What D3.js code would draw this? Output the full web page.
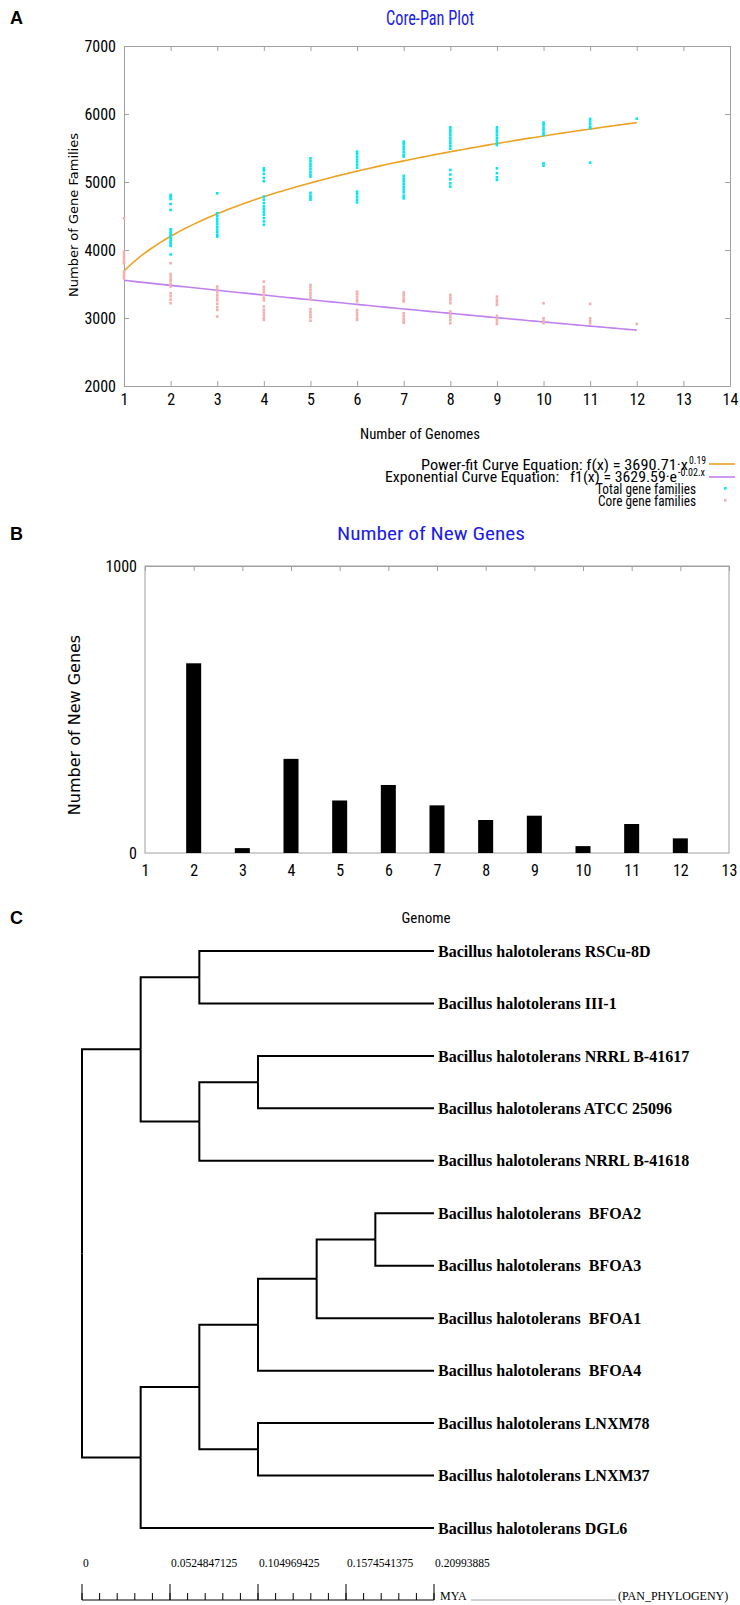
<!DOCTYPE html>
<html>
<head>
<meta charset="utf-8">
<script src="https://cdn.jsdelivr.net/npm/d3@7"></script>
<style>
  body { margin: 0; background: #fff; }
  svg { display: block; }
  .narrow { font-family: 'Liberation Sans Narrow', 'Arial Narrow', 'Roboto Condensed', 'Liberation Sans', sans-serif; font-stretch: condensed; }
  .verd { font-family: 'DejaVu Sans', Verdana, sans-serif; }
  .serif { font-family: 'Liberation Serif', 'Times New Roman', serif; }
</style>
</head>
<body>
<svg id="fig" width="740" height="1605"></svg>
<script>
// ---- panel A: core / pan ----
const genomeCounts = [1, 2, 3, 4, 5, 6, 7, 8, 9, 10, 11, 12];
const xTicksA = [1, 2, 3, 4, 5, 6, 7, 8, 9, 10, 11, 12, 13, 14];
const yTicksA = [2000, 3000, 4000, 5000, 6000, 7000];

// total gene families per number of genomes (one list per x)
const totalFamilies = [
  [],
  [4810, 4785, 4750, 4677, 4589, 4305, 4270, 4240, 4210, 4180, 4150, 4120, 4090, 4060, 3935],
  [4834, 4540, 4500, 4460, 4420, 4380, 4340, 4300, 4260, 4220, 4197],
  [5201, 5170, 5120, 5060, 5010, 4785, 4740, 4690, 4640, 4600, 4560, 4520, 4470, 4420, 4370],
  [5348, 5310, 5270, 5230, 5190, 5150, 5110, 5080, 4840, 4800, 4770, 4740],
  [5446, 5410, 5370, 5330, 5290, 5250, 5210, 4858, 4820, 4780, 4740, 4700],
  [5593, 5560, 5520, 5480, 5440, 5400, 5375, 5089, 5050, 5010, 4970, 4930, 4890, 4850, 4800, 4760],
  [5804, 5770, 5730, 5690, 5650, 5610, 5570, 5530, 5490, 5177, 5110, 5040, 4980, 4932],
  [5804, 5770, 5730, 5690, 5650, 5610, 5570, 5544, 5201, 5130, 5070, 5030],
  [5873, 5840, 5800, 5760, 5720, 5691, 5275, 5240],
  [5927, 5890, 5850, 5810, 5790, 5285],
  [5932]
];
// core gene families
const coreFamilies = [
  [4466, 3976, 3940, 3900, 3860, 3820, 3805, 3682, 3650, 3620, 3585],
  [3805, 3648, 3610, 3570, 3540, 3500, 3462, 3364, 3320, 3270, 3217],
  [3462, 3420, 3380, 3340, 3300, 3260, 3210, 3160, 3120, 3021],
  [3535, 3460, 3420, 3380, 3340, 3300, 3260, 3168, 3120, 3080, 3040, 3000, 2972],
  [3487, 3450, 3410, 3370, 3330, 3290, 3266, 3130, 3090, 3050, 3010, 2960],
  [3388, 3350, 3310, 3270, 3242, 3119, 3080, 3040, 3000, 2972],
  [3374, 3340, 3300, 3260, 3242, 3070, 3030, 2990, 2950, 2933],
  [3340, 3300, 3260, 3217, 3094, 3050, 3010, 2970, 2923],
  [3315, 3270, 3230, 3193, 3031, 2990, 2950, 2913],
  [3217, 2996, 2960, 2923],
  [3207, 2996, 2960, 2923],
  [2913]
];
// fitted curves (legend rounds the exponents)
const powerA = 3690.71, powerB = 0.187;
const expA = 3629.59, expB = -0.021;

// ---- panel B: new genes ----
const newGenomes = [2, 3, 4, 5, 6, 7, 8, 9, 10, 11, 12];
const newGenes = [661, 17, 328, 183, 237, 166, 115, 130, 24, 101, 51];
const xTicksB = [1, 2, 3, 4, 5, 6, 7, 8, 9, 10, 11, 12, 13];

// ---- panel C: pan phylogeny ----
const phylo = {children: [
  {children: [
    {children: [{name: "Bacillus halotolerans RSCu-8D"}, {name: "Bacillus halotolerans III-1"}]},
    {children: [
      {children: [{name: "Bacillus halotolerans NRRL B-41617"}, {name: "Bacillus halotolerans ATCC 25096"}]},
      {name: "Bacillus halotolerans NRRL B-41618"}
    ]}
  ]},
  {children: [
    {children: [
      {children: [
        {children: [
          {children: [{name: "Bacillus halotolerans  BFOA2"}, {name: "Bacillus halotolerans  BFOA3"}]},
          {name: "Bacillus halotolerans  BFOA1"}
        ]},
        {name: "Bacillus halotolerans  BFOA4"}
      ]},
      {children: [{name: "Bacillus halotolerans LNXM78"}, {name: "Bacillus halotolerans LNXM37"}]}
    ]},
    {name: "Bacillus halotolerans DGL6"}
  ]}
]};
const scaleMax = 0.20993885;
const scaleLabels = ["0", "0.0524847125", "0.104969425", "0.1574541375", "0.20993885"];

const svg = d3.select("#fig");
const grey = "#a0a0a0";
const orange = "#eea224", purple = "#c080f0", cyan = "#00e8f0", pink = "#f2b0b0";

function panelLetter(t, y) {
  svg.append("text").attr("x", 10).attr("y", y).attr("font-family", "'Liberation Sans', Arial, sans-serif")
    .attr("font-weight", "bold").attr("font-size", 18).text(t);
}
function styleAxis(g) {
  g.selectAll("path.domain").attr("stroke", grey);
  g.selectAll(".tick line").attr("stroke", grey);
  g.attr("font-family", null).attr("font-size", null);
  g.selectAll("text").attr("fill", "#000");
}
// narrow text squeezed to the width seen in the figure
function fitText(parent, x, y, anchor, size, len, str) {
  return parent.append("text").attr("class", "narrow").attr("x", x).attr("y", y)
    .attr("text-anchor", anchor).attr("font-size", size)
    .attr("textLength", len).attr("lengthAdjust", "spacingAndGlyphs").text(str);
}

// ===== Panel A =====
panelLetter("A", 24);
fitText(svg, 430, 25, "middle", 21, 88, "Core-Pan Plot").attr("fill", "#1c1ce6");

const xA = d3.scaleLinear().domain([1, 14]).range([124, 730]);
const yA = d3.scaleLinear().domain([2000, 7000]).range([386, 46]);

const gA = svg.append("g");
gA.append("g").attr("class", "narrow").attr("font-size", 13.5).attr("transform", "translate(0,386)")
  .call(d3.axisBottom(xA).tickValues(xTicksA).tickSizeInner(-5).tickSizeOuter(0).tickPadding(8).tickFormat(d3.format("d")))
  .call(styleAxis);
gA.append("g").attr("transform", "translate(0,46)")
  .call(d3.axisTop(xA).tickValues(xTicksA).tickSizeInner(-5).tickSizeOuter(0).tickFormat(""))
  .call(styleAxis);
gA.append("g").attr("class", "narrow").attr("font-size", 13).attr("transform", "translate(124,0)")
  .call(d3.axisLeft(yA).tickValues(yTicksA).tickSizeInner(-5).tickSizeOuter(0).tickPadding(8).tickFormat(d3.format("d")))
  .call(styleAxis);
gA.append("g").attr("transform", "translate(730,0)")
  .call(d3.axisRight(yA).tickValues(yTicksA).tickSizeInner(-5).tickSizeOuter(0).tickFormat(""))
  .call(styleAxis);

// fitted curves
const fitX = d3.range(1, 12.0001, 0.1);
const lineA = d3.line().x(d => xA(d[0])).y(d => yA(d[1]));
gA.append("path").attr("d", lineA(fitX.map(x => [x, powerA * Math.pow(x, powerB)])))
  .attr("fill", "none").attr("stroke", orange).attr("stroke-width", 1.6);
gA.append("path").attr("d", lineA(fitX.map(x => [x, expA * Math.exp(expB * x)])))
  .attr("fill", "none").attr("stroke", purple).attr("stroke-width", 1.6);

// points
const ptsTotal = [], ptsCore = [];
genomeCounts.forEach((n, i) => {
  totalFamilies[i].forEach(v => ptsTotal.push([n, v]));
  coreFamilies[i].forEach(v => ptsCore.push([n, v]));
});
gA.append("g").selectAll("rect").data(ptsTotal).join("rect")
  .attr("x", d => xA(d[0]) - 1.3).attr("y", d => yA(d[1]) - 1.3).attr("width", 2.6).attr("height", 2.6)
  .attr("fill", cyan);
gA.append("g").selectAll("rect").data(ptsCore).join("rect")
  .attr("x", d => xA(d[0]) - 1.3).attr("y", d => yA(d[1]) - 1.3).attr("width", 2.6).attr("height", 2.6)
  .attr("fill", pink);

fitText(svg, 420, 439, "middle", 15.5, 120, "Number of Genomes");
svg.append("text").attr("class", "verd").attr("transform", "translate(78,215) rotate(-90)").attr("text-anchor", "middle")
  .attr("font-size", 13).text("Number of Gene Families");

// legend
const leg = svg.append("g");
fitText(leg, 688, 470, "end", 14, 267, "Power-fit Curve Equation: f(x) = 3690.71·x");
fitText(leg, 689, 464, "start", 10, 17, "0.19");
fitText(leg, 677, 482, "end", 14, 292, "Exponential Curve Equation:\u00a0\u00a0\u00a0f1(x) = 3629.59·e");
fitText(leg, 678, 476, "start", 10, 27, "-0.02.x");
fitText(leg, 696, 494, "end", 14, 100, "Total gene families");
fitText(leg, 696, 506, "end", 14, 98, "Core gene families");
leg.append("line").attr("x1", 709).attr("x2", 735).attr("y1", 464).attr("y2", 464).attr("stroke", orange).attr("stroke-width", 1.6);
leg.append("line").attr("x1", 709).attr("x2", 735).attr("y1", 477).attr("y2", 477).attr("stroke", purple).attr("stroke-width", 1.6);
leg.append("rect").attr("x", 724).attr("y", 487).attr("width", 2.6).attr("height", 2.6).attr("fill", cyan);
leg.append("rect").attr("x", 724).attr("y", 499).attr("width", 2.6).attr("height", 2.6).attr("fill", pink);

// ===== Panel B =====
panelLetter("B", 540);
fitText(svg, 431, 540, "middle", 19, 188, "Number of New Genes").attr("fill", "#1c1ce6");

const xB = d3.scaleLinear().domain([1, 13]).range([145, 729]);
const yB = d3.scaleLinear().domain([0, 1000]).range([853, 566]);
const gB = svg.append("g");
gB.append("rect").attr("x", 145).attr("y", 566).attr("width", 729 - 145).attr("height", 853 - 566)
  .attr("fill", "none").attr("stroke", grey);
gB.append("g").attr("transform", "translate(0,566)")
  .call(d3.axisTop(xB).tickValues(xTicksB).tickSizeInner(-5).tickSizeOuter(0).tickFormat(""))
  .call(styleAxis);
gB.append("g").attr("class", "narrow").attr("font-size", 18).attr("transform", "translate(0,853)")
  .call(d3.axisBottom(xB).tickValues(xTicksB).tickSize(0).tickPadding(12).tickFormat(d3.format("d")))
  .call(styleAxis).call(g => g.select(".domain").remove());
gB.append("g").attr("class", "narrow").attr("font-size", 18).attr("transform", "translate(145,0)")
  .call(d3.axisLeft(yB).tickValues([0, 1000]).tickSize(0).tickPadding(8).tickFormat(d3.format("d")))
  .call(styleAxis).call(g => g.select(".domain").remove());
gB.append("g").selectAll("rect").data(newGenomes).join("rect")
  .attr("x", (d) => xB(d) - 7.5).attr("width", 15)
  .attr("y", (d, i) => yB(newGenes[i])).attr("height", (d, i) => yB(0) - yB(newGenes[i]))
  .attr("fill", "#000");
svg.append("text").attr("class", "verd").attr("transform", "translate(80,725) rotate(-90)").attr("text-anchor", "middle")
  .attr("font-size", 16).text("Number of New Genes");

// ===== Panel C =====
panelLetter("C", 924);
svg.append("text").attr("class", "narrow").attr("x", 426).attr("y", 923).attr("text-anchor", "middle")
  .attr("font-size", 15).text("Genome");

const root = d3.hierarchy(phylo);
d3.cluster().separation(() => 1).size([1, 1])(root);
const leaves = root.leaves();
const yC = d3.scaleLinear().domain(d3.extent(leaves, d => d.x)).range([951, 1528]);
const dist = d3.scaleLinear().domain([0, scaleMax]).range([82, 434]);
const depthMax = d3.max(leaves, d => d.depth);
const nodeX = d => d.children ? dist(scaleMax * d.depth / depthMax) : dist(scaleMax);

const gC = svg.append("g");
gC.selectAll("path").data(root.descendants().slice(1)).join("path")
  .attr("d", d => `M${nodeX(d.parent)},${yC(d.parent.x)}V${yC(d.x)}H${nodeX(d)}`)
  .attr("fill", "none").attr("stroke", "#000").attr("stroke-width", 2);
gC.selectAll("text").data(leaves).join("text")
  .attr("class", "serif").attr("x", dist(scaleMax) + 4).attr("y", d => yC(d.x)).attr("dy", "0.35em")
  .attr("font-size", 16).attr("font-weight", "bold")
  .style("white-space", "pre").text(d => d.data.name);

// scale bar
const gS = svg.append("g").attr("class", "serif");
const major = d3.range(0, 5).map(i => scaleMax * i / 4);
const minor = d3.range(0, 21).map(i => scaleMax * i / 20);
gS.append("line").attr("x1", dist(0)).attr("x2", dist(scaleMax)).attr("y1", 1600).attr("y2", 1600)
  .attr("stroke", "#000");
gS.selectAll("line.mn").data(minor).join("line").attr("class", "mn")
  .attr("x1", d => dist(d)).attr("x2", d => dist(d)).attr("y1", 1593).attr("y2", 1600).attr("stroke", "#000");
gS.selectAll("line.mj").data(major).join("line").attr("class", "mj")
  .attr("x1", d => dist(d)).attr("x2", d => dist(d)).attr("y1", 1584).attr("y2", 1600).attr("stroke", "#000");
gS.selectAll("text.lb").data(major).join("text").attr("class", "lb")
  .attr("x", d => dist(d) + 1).attr("y", 1567).attr("font-size", 11.5).text((d, i) => scaleLabels[i]);
gS.append("text").attr("x", 440).attr("y", 1600).attr("font-size", 12).text("MYA");
gS.append("line").attr("x1", 471).attr("x2", 616).attr("y1", 1600).attr("y2", 1600).attr("stroke", "#888").attr("stroke-width", 0.8);
gS.append("text").attr("x", 618).attr("y", 1600).attr("font-size", 12).text("(PAN_PHYLOGENY)");
</script>
</body>
</html>
